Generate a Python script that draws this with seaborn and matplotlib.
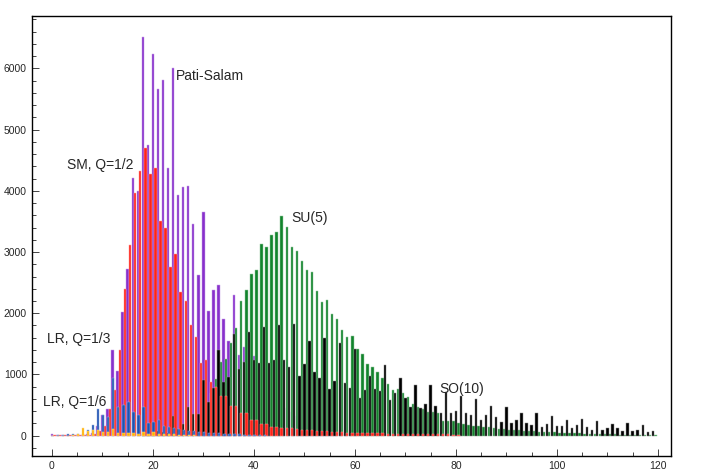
import numpy as np
import matplotlib
matplotlib.use("Agg")
import matplotlib.pyplot as plt
from matplotlib.colors import to_rgb
from matplotlib.ticker import MultipleLocator
import seaborn as sns

# Pati-Salam (purple), bins 0..60
ps_x = list(range(0, 61))
ps_y = [20, 8, 8, 10, 10, 10, 15, 20, 50, 150,
        340, 430, 1400, 1060, 2020, 2730, 4210, 3990, 6510, 4745,
        6235, 5655, 5805, 4365, 6000, 3930, 4065, 4080, 3457, 2620,
        3660, 2030, 2380, 2460, 1900, 1540, 2300, 1320, 1455, 1250,
        1300, 1000, 900, 750, 650, 550, 450, 380, 320, 260,
        210, 170, 140, 110, 90, 70, 55, 40, 30, 20, 15]

# SM, Q=1/2 (red), bins 0..80
sm_x = list(range(0, 81))
sm_y = [5, 15, 15, 10, 10, 8, 10, 15, 30, 70,
        150, 430, 750, 1400, 2390, 3114, 3969, 4323, 4693, 4274,
        4367, 3512, 3387, 2761, 2968, 2352, 2205, 1808, 1610, 1182,
        1230, 880, 800, 653, 650, 490, 490, 366, 366, 253,
        250, 188, 186, 147, 147, 120, 125, 120, 105, 100,
        90, 85, 75, 70, 70, 62, 58, 55, 50, 48,
        48, 45, 42, 40, 38, 36, 35, 34, 32, 30,
        30, 28, 27, 26, 25, 24, 23, 22, 20, 18, 16]

# SU(5) (green), bins 18..119
su5_x = list(range(18, 120))
su5_y = [3, 5, 8, 12, 20, 30, 45, 70, 110, 170,
         250, 350, 500, 700, 921, 1198, 1248, 1519, 1754, 2205,
         2380, 2641, 2706, 3131, 3077, 3278, 3332, 3588, 3413, 3087,
         3021, 2858, 2706, 2668, 2363, 2178, 2216, 1982, 1906, 1730,
         1617, 1633, 1414, 1329, 1166, 1117, 1045, 937, 839, 746,
         758, 702, 627, 518, 464, 431, 392, 392, 366, 240,
         240, 233, 200, 185, 175, 165, 155, 145, 135, 125,
         115, 105, 98, 92, 86, 80, 75, 70, 65, 60,
         56, 52, 48, 45, 42, 39, 36, 33, 31, 29,
         27, 25, 23, 21, 19, 17, 16, 15, 14, 13, 12, 11]

# SO(10) (black), bins 18..119
so10_x = list(range(18, 120))
so10_y = [20, 15, 40, 82, 60, 40, 325, 109, 186, 465,
          354, 354, 905, 555, 780, 1395, 880, 954, 1665, 1084,
          1209, 1699, 1236, 1182, 1770, 1182, 1236, 1800, 1236, 1117,
          1822, 975, 1166, 1546, 1045, 937, 1590, 762, 893, 1520,
          855, 774, 1415, 611, 746, 980, 758, 725, 1155, 583,
          692, 947, 611, 464, 828, 448, 518, 823, 490, 376,
          719, 376, 403, 653, 366, 338, 594, 256, 338, 485,
          310, 229, 474, 212, 256, 376, 202, 175, 376, 147,
          185, 321, 158, 158, 256, 120, 175, 267, 147, 93,
          240, 93, 120, 190, 131, 71, 212, 76, 93, 175, 66, 71]

# LR, Q=1/3 (blue), bins 0..42
lr3_x = list(range(0, 43))
lr3_y = [0, 5, 5, 20, 25, 20, 30, 100, 175, 433,
         340, 305, 947, 470, 495, 555, 385, 330, 468, 212,
         229, 250, 165, 135, 125, 105, 95, 80, 70, 65,
         55, 50, 45, 40, 35, 30, 25, 20, 15, 12, 10, 8, 6]

# LR, Q=1/6 (orange), bins 0..28
lr6_x = list(range(0, 29))
lr6_y = [0, 0, 0, 0, 5, 20, 131, 72, 98, 98,
         65, 55, 115, 45, 38, 45, 38, 35, 55, 30,
         55, 30, 25, 20, 25, 15, 10, 8, 5]

labels = ["Pati-Salam", "SM, Q=1/2", "SU(5)", "LR, Q=1/3", "LR, Q=1/6", "SO(10)"]

sns.set_style("ticks")
plt.rcParams["font.family"] = ["Liberation Sans", "DejaVu Sans"]

fig = plt.figure(figsize=(7.08, 4.73), dpi=100)
ax = fig.add_axes([31.7 / 708, 1 - 455.7 / 473, (671 - 31.7) / 708, (455.7 - 15.7) / 473])


def tint(c, f=0.55):
    r, g, b = to_rgb(c)
    return (r + (1 - r) * f, g + (1 - g) * f, b + (1 - b) * f)


def draw(xs, ys, offset, color):
    sns.histplot(x=np.array(xs) + offset, weights=ys, discrete=True, shrink=0.47,
                 color=color, edgecolor=tint(color), linewidth=0.35, alpha=1, ax=ax)


# back to front
draw(ps_x, ps_y, 0.0, "#8830cc")
draw(su5_x, su5_y, 0.5, "#12842c")
draw(so10_x, so10_y, 0.0, "#000000")
draw(sm_x, sm_y, 0.5, "#ff2218")
draw(lr3_x, lr3_y, 0.15, "#1d52b3")
draw(lr6_x, lr6_y, 0.15, "#ffb000")

ax.set_xlim(-4, 122.6)
ax.set_ylim(-327, 6860)
ax.set_xlabel("")
ax.set_ylabel("")

ax.set_xticks(range(0, 121, 20))
ax.set_yticks(range(0, 6001, 1000))
ax.xaxis.set_minor_locator(MultipleLocator(5))
ax.yaxis.set_minor_locator(MultipleLocator(200))
ax.tick_params(which="both", direction="in", top=False, right=False, labelsize=7.5, width=0.6)
ax.tick_params(which="major", length=5)
ax.tick_params(which="minor", length=3)
for s in ax.spines.values():
    s.set_linewidth(1.0)
    s.set_color("black")

ax.text(24.6, 5875, labels[0], fontsize=10, va="center", ha="left")
ax.text(16.1, 4421, labels[1], fontsize=10, va="center", ha="right")
ax.text(47.5, 3550, labels[2], fontsize=10, va="center", ha="left")
ax.text(11.5, 1574, labels[3], fontsize=10, va="center", ha="right")
ax.text(10.7, 545, labels[4], fontsize=10, va="center", ha="right")
ax.text(76.7, 758, labels[5], fontsize=10, va="center", ha="left")

fig.savefig("out.png", dpi=100)
